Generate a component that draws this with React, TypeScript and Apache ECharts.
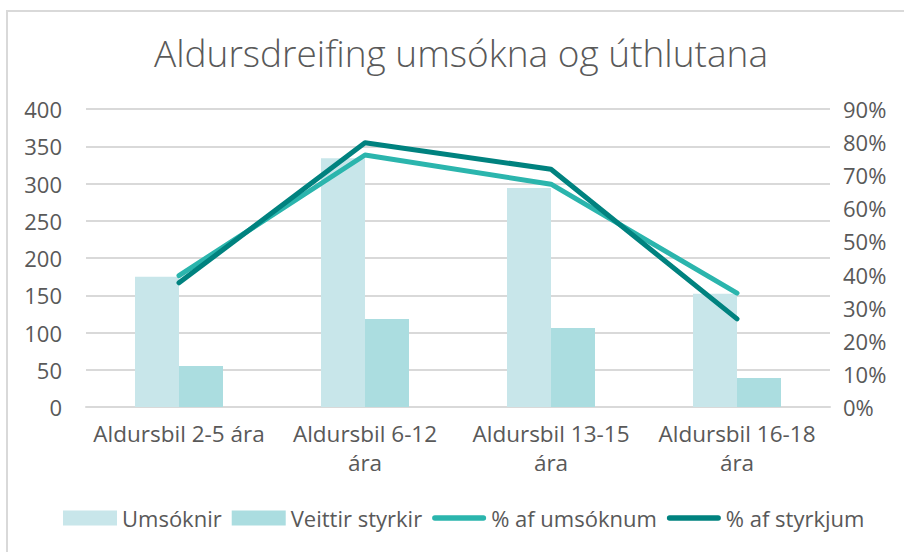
import React, { useEffect, useRef } from "react";
import * as echarts from "echarts";

const categories = ["Aldursbil 2-5 ára", "Aldursbil 6-12 ára", "Aldursbil 13-15 ára", "Aldursbil 16-18 ára"];
const umsoknir = [175, 334, 294, 152];
const veittirStyrkir = [55, 118, 106, 39];
const pctUmsoknum = [0.397, 0.761, 0.673, 0.344];
const pctStyrkjum = [0.375, 0.798, 0.718, 0.266];
const seriesNames = ["Umsóknir", "Veittir styrkir", "% af umsóknum", "% af styrkjum"];
const titleText = "Aldursdreifing umsókna og úthlutana";

const FONT = "Open Sans";
const TXT = "#595959";
const LINE_ICON = "path://M0,0M54,15M2.75,4.75h48.5a2.75,2.75 0 0 1 0,5.5h-48.5a2.75,2.75 0 0 1 0,-5.5z";

export default function App() {
  const ref = useRef<HTMLDivElement>(null);
  useEffect(() => {
    if (!ref.current) return;
    const chart = echarts.init(ref.current, undefined, { renderer: "svg" });
    chart.setOption({
      animation: false,
      backgroundColor: "#ffffff",
      textStyle: { fontFamily: FONT },
      graphic: [
        {
          type: "rect",
          shape: { x: 7, y: 11, width: 1000, height: 1000 },
          style: { fill: "none", stroke: "#d9d9d9", lineWidth: 2 },
          silent: true,
        },
        {
          type: "text",
          x: 461,
          y: 52,
          silent: true,
          style: {
            text: titleText,
            textAlign: "center",
            textVerticalAlign: "middle",
            fontFamily: FONT,
            fontSize: 37,
            fontWeight: 300,
            fill: TXT,
          },
        },
      ],
      legend: {
        bottom: 18,
        left: 58,
        itemWidth: 54,
        itemHeight: 15,
        itemGap: 10,
        textStyle: { fontFamily: FONT, fontSize: 22, color: TXT },
        data: [
          { name: seriesNames[0], icon: "rect" },
          { name: seriesNames[1], icon: "rect" },
          { name: seriesNames[2], icon: LINE_ICON },
          { name: seriesNames[3], icon: LINE_ICON },
        ],
      },
      grid: { left: 86, right: 74, top: 109, bottom: 145, containLabel: false },
      xAxis: {
        type: "category",
        data: categories,
        axisLine: { lineStyle: { color: "#d9d9d9", width: 2 } },
        axisTick: { show: false },
        axisLabel: {
          color: TXT,
          fontSize: 22.5,
          fontFamily: FONT,
          lineHeight: 29,
          margin: 12,
          interval: 0,
          formatter: (v: string) => {
            if (v.length > 17) {
              const i = v.lastIndexOf(" ");
              return v.slice(0, i) + "\n" + v.slice(i + 1);
            }
            return v;
          },
        },
      },
      yAxis: [
        {
          type: "value",
          min: 0,
          max: 400,
          interval: 50,
          axisLine: { show: false },
          axisTick: { show: false },
          splitLine: { lineStyle: { color: "#d9d9d9", width: 2 } },
          axisLabel: { color: TXT, fontSize: 22, fontFamily: FONT, margin: 24 },
        },
        {
          type: "value",
          min: 0,
          max: 0.9,
          interval: 0.1,
          axisLine: { show: false },
          axisTick: { show: false },
          splitLine: { show: false },
          axisLabel: {
            color: TXT,
            fontSize: 22,
            fontFamily: FONT,
            margin: 13,
            formatter: (v: number) => Math.round(v * 100) + "%",
          },
        },
      ],
      series: [
        {
          name: seriesNames[0],
          type: "bar",
          data: umsoknir,
          barGap: "0%",
          barCategoryGap: "52.7%",
          itemStyle: { color: "#c8e6ea" },
        },
        {
          name: seriesNames[1],
          type: "bar",
          data: veittirStyrkir,
          barGap: "0%",
          barCategoryGap: "52.7%",
          itemStyle: { color: "#abdde0" },
        },
        {
          name: seriesNames[2],
          type: "line",
          yAxisIndex: 1,
          data: pctUmsoknum,
          symbol: "none",
          lineStyle: { color: "#2bb5ad", width: 5, cap: "round", join: "round" },
          itemStyle: { color: "#2bb5ad" },
        },
        {
          name: seriesNames[3],
          type: "line",
          yAxisIndex: 1,
          data: pctStyrkjum,
          symbol: "none",
          lineStyle: { color: "#00827f", width: 5, cap: "round", join: "round" },
          itemStyle: { color: "#00827f" },
        },
      ],
    });
    return () => chart.dispose();
  }, []);
  return (
    <div
      ref={ref}
      style={{ position: "fixed", left: 0, top: 0, width: 904, height: 552 }}
    />
  );
}
